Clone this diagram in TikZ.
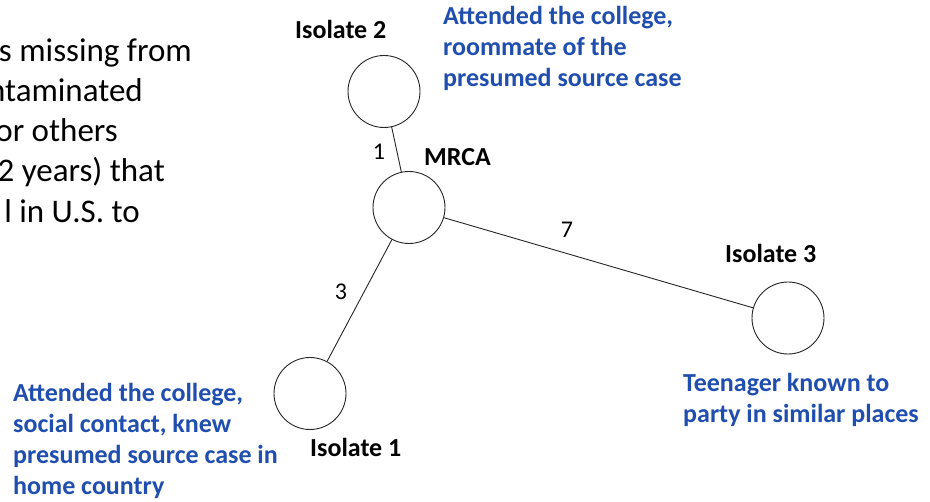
\documentclass[tikz,border=0pt]{standalone}
\usepackage{fontspec}
\setmainfont{Carlito}
\definecolor{noteblue}{RGB}{31,78,175}
\tikzset{
  iso/.style={circle,draw=black!85,line width=0.9pt,minimum size=72pt,inner sep=0pt},
  edge/.style={draw=black!85,line width=0.9pt},
  lab/.style={font=\bfseries\fontsize{26}{31}\selectfont,inner sep=0pt,anchor=base west},
  num/.style={font=\fontsize{24}{30}\selectfont,inner sep=0pt,anchor=base},
  note/.style={font=\bfseries\fontsize{26}{31}\selectfont,text=noteblue,align=left,inner sep=0pt,anchor=base west},
  side/.style={font=\fontsize{33}{40}\selectfont,inner sep=0pt,anchor=base east}
}
\begin{document}
\begin{tikzpicture}[x=1pt,y=-1pt]
\useasboundingbox (0,0) rectangle (930,502);
% circles
\node[iso] (i2) at (384,91.5) {};
\node[iso] (mrca) at (409,207.5) {};
\node[iso] (i1) at (310,393.5) {};
\node[iso] (i3) at (788,318) {};
% connectors
\draw[edge] (i2) -- (mrca);
\draw[edge] (mrca) -- (i1);
\draw[edge] (mrca) -- (i3);
% labels
\node[lab] (l2) at (295,39) {Isolate 2};
\node[lab] (lm) at (424,166) {MRCA};
\node[lab] (l1) at (310,457) {Isolate 1};
\node[lab] (l3) at (725,263) {Isolate 3};
\node[num] (n1) at (379,160) {1};
\node[num] (n7) at (567,238) {7};
\node[num] (n3) at (341,300) {3};
% notes (base anchor = last line's baseline)
\node[note] (t2) at (443,87) {Attended the college,\\roommate of the\\presumed source case};
\node[note] (t1) at (13,495) {Attended the college,\\social contact, knew\\presumed source case in\\home country};
\node[note] (t3) at (683,423) {Teenager known to\\party in similar places};
% cut-off side text
\node[side] (s1) at (192,62) {s missing from};
\node[side] (s2) at (143,102) {ntaminated};
\node[side] (s3) at (118,142) {or others};
\node[side] (s4) at (165,182) {2 years) that};
\node[side] (s5) at (140,223) {l in U.S. to};
\end{tikzpicture}
\end{document}
